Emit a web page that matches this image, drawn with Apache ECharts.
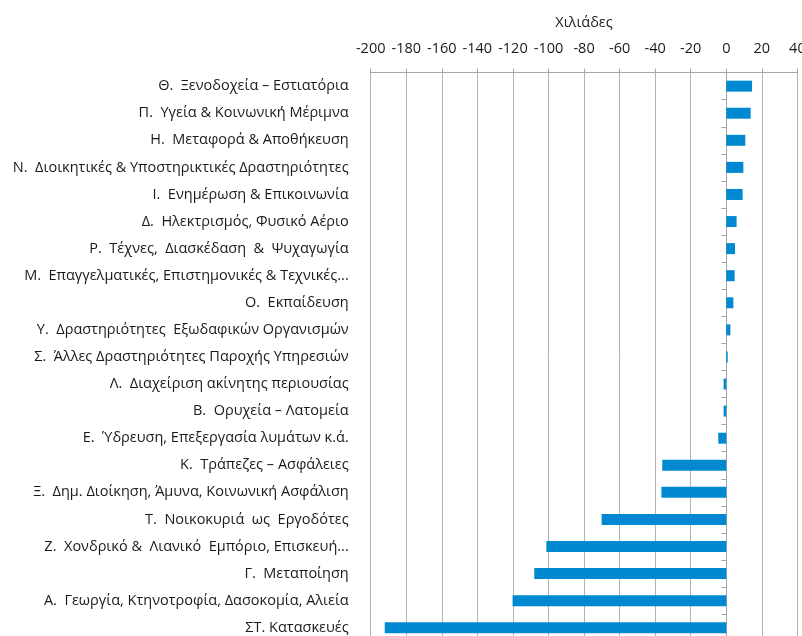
<!DOCTYPE html>
<html><head><meta charset="utf-8">
<script src="https://cdn.jsdelivr.net/npm/echarts@6/dist/echarts.min.js"></script>
<style>html,body{margin:0;padding:0;background:#fff}#c{width:802px;height:636px}</style>
</head><body><div id="c"></div>
<script>
const categories = [
  "Θ.  Ξενοδοχεία – Εστιατόρια",
  "Π.  Υγεία & Κοινωνική Μέριμνα",
  "Η.  Μεταφορά & Αποθήκευση",
  "Ν.  Διοικητικές & Υποστηρικτικές Δραστηριότητες",
  "Ι.  Ενημέρωση & Επικοινωνία",
  "Δ.  Ηλεκτρισμός, Φυσικό Αέριο",
  "Ρ.  Τέχνες,  Διασκέδαση  &  Ψυχαγωγία",
  "Μ.  Επαγγελματικές, Επιστημονικές & Τεχνικές...",
  "Ο.  Εκπαίδευση",
  "Υ.  Δραστηριότητες  Εξωδαφικών Οργανισμών",
  "Σ.  Άλλες Δραστηριότητες Παροχής Υπηρεσιών",
  "Λ.  Διαχείριση ακίνητης περιουσίας",
  "Β.  Ορυχεία – Λατομεία",
  "Ε.  Ύδρευση, Επεξεργασία λυμάτων κ.ά.",
  "Κ.  Τράπεζες – Ασφάλειες",
  "Ξ.  Δημ. Διοίκηση, Άμυνα, Κοινωνική Ασφάλιση",
  "Τ.  Νοικοκυριά  ως  Εργοδότες",
  "Ζ.  Χονδρικό &  Λιανικό  Εμπόριο, Επισκευή...",
  "Γ.  Μεταποίηση",
  "Α.  Γεωργία, Κτηνοτροφία, Δασοκομία, Αλιεία",
  "ΣΤ. Κατασκευές"
];
const values = [14.5, 13.7, 10.7, 9.6, 9.2, 5.8, 4.9, 4.7, 4.0, 2.3, 0.8, -1.5, -1.5, -4.5, -36.0, -36.5, -70.1, -101.2, -108.0, -120.2, -192.1];
const axisName = "Χιλιάδες";
const xMin = -200, xMax = 40, xStep = 20;

const FONT = "'Open Sans', sans-serif";
const chart = echarts.init(document.getElementById('c'), null, {renderer: 'canvas'});
chart.setOption({
  animation: false,
  backgroundColor: '#ffffff',
  grid: {left: 370.7, right: 4.6, top: 72.6, bottom: -5.3, containLabel: false, outerBoundsMode: 'none'},
  xAxis: {
    type: 'value', position: 'top', min: xMin, max: xMax, interval: xStep,
    name: axisName, nameLocation: 'middle', nameGap: 42,
    nameTextStyle: {color: '#1a1a1a', fontSize: 14.5, fontFamily: FONT},
    axisLine: {show: true, lineStyle: {color: '#a6a6a6', width: 1}},
    axisTick: {show: true, length: 4, lineStyle: {color: '#a6a6a6'}},
    axisLabel: {color: '#1a1a1a', fontSize: 14.5, fontFamily: FONT, margin: 16},
    splitLine: {show: true, lineStyle: {color: '#b3b3b3', width: 1}}
  },
  yAxis: [
    {
      type: 'category', inverse: true, data: categories, position: 'left',
      axisLine: {show: false, onZero: false}, axisTick: {show: false},
      axisLabel: {color: '#1a1a1a', fontSize: 14.5, fontFamily: FONT, margin: 22}
    },
    {
      type: 'category', inverse: true, data: categories, position: 'left',
      axisLine: {show: true, onZero: true, onZeroAxisIndex: 0, lineStyle: {color: '#a6a6a6'}},
      axisTick: {show: true, length: 5, lineStyle: {color: '#a6a6a6'}},
      axisLabel: {show: false}
    }
  ],
  series: [{
    type: 'bar', data: values, yAxisIndex: 0, barWidth: 11,
    itemStyle: {color: '#0089d0'}
  }]
});
</script></body></html>
